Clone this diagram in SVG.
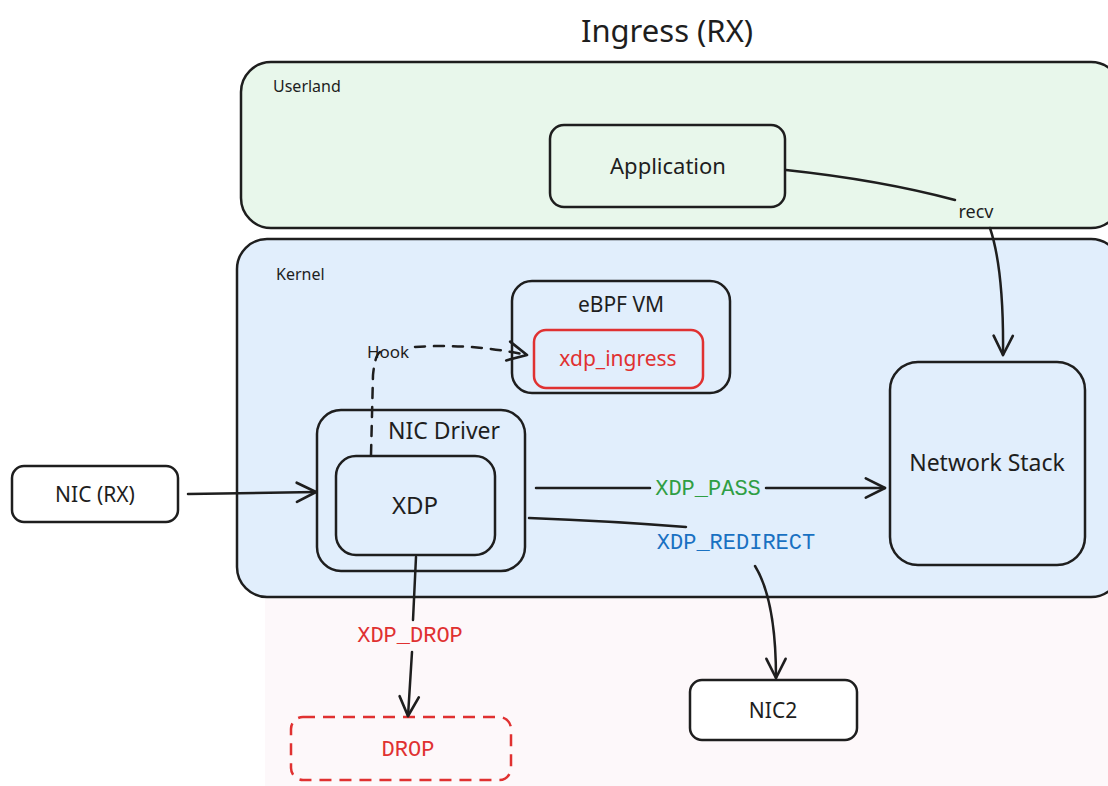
<svg xmlns="http://www.w3.org/2000/svg" width="1108" height="786" viewBox="0 0 1108 786">
  <defs>
    <style>
      .box { stroke: #1e1e1e; stroke-width: 2.5; }
      .lbl { font-family: "Noto Sans", "Open Sans", sans-serif; fill: #1e1e1e; }
      .code { font-family: "Liberation Mono", "DejaVu Sans Mono", monospace; }
      .edge { stroke: #1e1e1e; stroke-width: 2.5; fill: none; stroke-linecap: round; }
      .red { fill: #e03131; }
      .green { fill: #2f9e44; }
      .blue { fill: #1971c2; }
    </style>
    <marker id="arr" viewBox="0 0 20 20" refX="18" refY="10" markerWidth="24" markerHeight="24" markerUnits="userSpaceOnUse" orient="auto">
      <path d="M2,2 L18,10 L2,18" fill="none" stroke="#1e1e1e" stroke-width="2.2" stroke-linecap="round" stroke-linejoin="round"/>
    </marker>
  </defs>

  <rect width="1108" height="786" fill="#ffffff"/>
  <rect x="265" y="560" width="843" height="226" fill="#fdf8fa"/>

  <text x="667" y="42" text-anchor="middle" class="lbl" font-size="31">Ingress (RX)</text>

  <g id="userland">
    <rect x="241" y="62" width="880" height="166" rx="30" class="box" fill="#e8f7eb"/>
    <text x="273" y="92" class="lbl" font-size="16">Userland</text>
  </g>

  <g id="kernel">
    <rect x="237" y="239" width="884" height="358" rx="30" class="box" fill="#e1eefc"/>
    <text x="276" y="280" class="lbl" font-size="16">Kernel</text>
  </g>

  <g id="application">
    <rect x="550" y="125" width="235" height="82" rx="14" class="box" fill="none"/>
    <text x="668" y="174" text-anchor="middle" class="lbl" font-size="22">Application</text>
  </g>

  <g id="ebpf-vm">
    <rect x="512" y="281" width="218" height="112" rx="20" class="box" fill="none"/>
    <text x="621" y="312" text-anchor="middle" class="lbl" font-size="21">eBPF VM</text>
  </g>

  <g id="xdp-ingress">
    <rect x="534" y="330" width="169" height="58" rx="12" fill="none" stroke="#e03131" stroke-width="2.5"/>
    <text x="618" y="366" text-anchor="middle" class="lbl red" font-size="21">xdp_ingress</text>
  </g>

  <g id="nic-driver">
    <rect x="317" y="410" width="208" height="161" rx="24" class="box" fill="none"/>
    <text x="444" y="439" text-anchor="middle" class="lbl" font-size="23">NIC Driver</text>
  </g>

  <g id="xdp">
    <rect x="336" y="456" width="159" height="99" rx="20" class="box" fill="none"/>
    <text x="415" y="514" text-anchor="middle" class="lbl" font-size="24">XDP</text>
  </g>

  <g id="network-stack">
    <rect x="890" y="362" width="195" height="203" rx="28" class="box" fill="none"/>
    <text x="987" y="471" text-anchor="middle" class="lbl" font-size="23">Network Stack</text>
  </g>

  <g id="nic-rx">
    <rect x="12" y="466" width="166" height="56" rx="12" class="box" fill="#ffffff"/>
    <text x="95" y="502" text-anchor="middle" class="lbl" font-size="21">NIC (RX)</text>
  </g>

  <g id="nic2">
    <rect x="690" y="680" width="167" height="60" rx="12" class="box" fill="#ffffff"/>
    <text x="773" y="718" text-anchor="middle" class="lbl" font-size="21">NIC2</text>
  </g>

  <g id="drop">
    <rect x="291" y="717" width="220" height="63" rx="12" fill="none" stroke="#e03131" stroke-width="2.5" stroke-dasharray="12 8"/>
    <text x="408" y="756" text-anchor="middle" class="code red" font-size="22">DROP</text>
  </g>

  <g id="connectors">
    <!-- recv -->
    <path d="M786,170 Q880,180 955,200" class="edge"/>
    <text x="976" y="218" text-anchor="middle" class="lbl" font-size="18">recv</text>
    <path d="M990,228 Q1004,270 1003,355" class="edge" marker-end="url(#arr)"/>

    <!-- NIC (RX) to NIC Driver -->
    <path d="M188,494 L316,492" class="edge" marker-end="url(#arr)"/>

    <!-- Hook -->
    <path d="M371,455 L373,375 Q375,355 380,352" class="edge" stroke-dasharray="10 9"/>
    <text x="388" y="358" text-anchor="middle" class="lbl" font-size="17">Hook</text>
    <path d="M415,347 Q470,343 527,355" class="edge" stroke-dasharray="10 9" marker-end="url(#arr)"/>

    <!-- XDP_PASS -->
    <path d="M536,488 L650,488" class="edge"/>
    <path d="M766,488 L885,488" class="edge" marker-end="url(#arr)"/>
    <text x="708" y="495" text-anchor="middle" class="code green" font-size="22">XDP_PASS</text>

    <!-- XDP_REDIRECT -->
    <path d="M529,518 Q610,521 686,527" class="edge"/>
    <text x="736" y="549" text-anchor="middle" class="code blue" font-size="22">XDP_REDIRECT</text>
    <path d="M755,566 Q776,600 776,678" class="edge" marker-end="url(#arr)"/>

    <!-- XDP_DROP -->
    <path d="M416,557 L413,620" class="edge"/>
    <text x="410" y="642" text-anchor="middle" class="code red" font-size="22">XDP_DROP</text>
    <path d="M412,652 L408,716" class="edge" marker-end="url(#arr)"/>
  </g>
</svg>
